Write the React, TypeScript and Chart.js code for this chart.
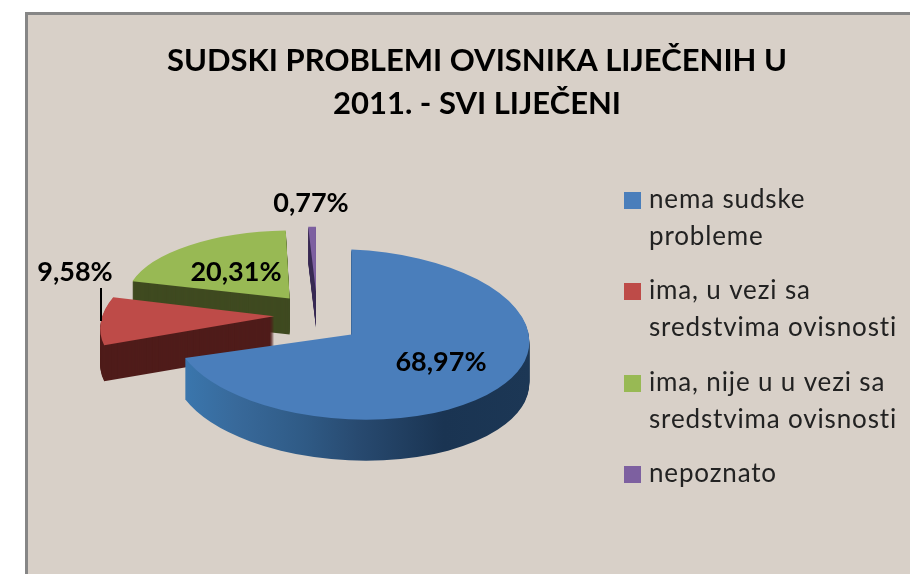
import React, { useEffect, useRef } from "react";
import { Chart, registerables } from "chart.js";

Chart.register(...registerables);

const titleLines = ["SUDSKI PROBLEMI OVISNIKA LIJEČENIH U", "2011. - SVI LIJEČENI"];
const legendLines = [
  ["nema sudske", "probleme"],
  ["ima, u vezi sa", "sredstvima ovisnosti"],
  ["ima, nije u u vezi sa", "sredstvima ovisnosti"],
  ["nepoznato"],
];
const categories = legendLines.map((l) => l.join(" "));
const shareValues = [68.97, 9.58, 20.31, 0.77];
const valueLabels = ["68,97%", "9,58%", "20,31%", "0,77%"];
const faceColors = ["#4a7ebb", "#be4b48", "#98b954", "#7d60a0"];
const wallColors = ["#2a4e74", "#4f1c1a", "#3f4a20", "#3a2c55"];

// Fake-3D projection of each slice (layout only)
const CENTER = { x: 317, y: 316 };
const EXPLODE = 43;
const EXPLODE_Y = 0.47;
const projection = [
  { m: [178, 0, 7, 85], nudge: [-1, 7], depth: 41 },
  { m: [172, -25.6, -0.3, 81], nudge: [0, -1], depth: 36 },
  { m: [163, -4, 0.8, 68], nudge: [0, -2], depth: 36 },
  { m: [160, 0, 0, 65], nudge: [0, -4], depth: 36 },
];
const drawOrder = [2, 3, 1, 0];
const labelPos = [
  [441, 362],
  [75, 272],
  [236, 272],
  [311, 203],
];
const legendTop = [192, 283, 375, 466];

const FONT = "Lato, 'Open Sans', sans-serif";

const pie3d = {
  id: "pie3d",
  beforeDatasetDraw() {
    return false;
  },
  afterDatasetsDraw(chart: any) {
    const ctx: CanvasRenderingContext2D = chart.ctx;
    const arcs = chart.getDatasetMeta(0).data;
    for (const i of drawOrder) {
      const arc = arcs[i];
      const p = projection[i];
      const R = arc.outerRadius;
      const mid = (arc.startAngle + arc.endAngle) / 2;
      const ax = CENTER.x + EXPLODE * Math.cos(mid) + p.nudge[0];
      const ay = CENTER.y + EXPLODE * EXPLODE_Y * Math.sin(mid) + p.nudge[1];
      const [a11, a12, a21, a22] = p.m.map((v) => v / R);
      const apply = (dy: number) =>
        ctx.transform(
          a11,
          a21,
          a12,
          a22,
          ax - a11 * arc.x - a12 * arc.y,
          ay + dy - a21 * arc.x - a22 * arc.y
        );
      let wall: any = wallColors[i];
      if (i === 0) {
        const toLocal = (sx: number) => arc.x + ((sx - ax) * R) / p.m[0];
        const g = ctx.createLinearGradient(toLocal(185), 0, toLocal(530), 0);
        g.addColorStop(0, "#3a76ad");
        g.addColorStop(0.15, "#38699a");
        g.addColorStop(0.35, "#2f5a85");
        g.addColorStop(0.5, "#284a70");
        g.addColorStop(0.75, "#1a3452");
        g.addColorStop(1, "#1c3755");
        wall = g;
      }
      const base = arc.options;
      const wallOpts = Object.assign(Object.create(base), { backgroundColor: wall, borderWidth: 0 });
      arc.options = wallOpts;
      for (let d = p.depth; d >= 1; d--) {
        ctx.save();
        apply(d);
        arc.draw(ctx);
        ctx.restore();
      }
      arc.options = base;
      ctx.save();
      apply(0);
      arc.draw(ctx);
      ctx.restore();
    }

    ctx.save();
    ctx.strokeStyle = "#000";
    ctx.lineWidth = 2;
    ctx.beginPath();
    ctx.moveTo(101, 288);
    ctx.lineTo(101, 321);
    ctx.stroke();
    ctx.fillStyle = "#000";
    ctx.textAlign = "center";
    ctx.textBaseline = "middle";
    ctx.font = `bold 27px ${FONT}`;
    valueLabels.forEach((t, i) => ctx.fillText(t, labelPos[i][0], labelPos[i][1]));

    ctx.textAlign = "left";
    ctx.font = `26px ${FONT}`;
    (ctx as any).letterSpacing = "0.85px";
    legendLines.forEach((lines, i) => {
      const y = legendTop[i];
      ctx.fillStyle = faceColors[i];
      ctx.fillRect(624, y, 17, 17);
      ctx.fillStyle = "#222";
      lines.forEach((line, j) => ctx.fillText(line, 649, y + 8 + j * 37));
    });
    (ctx as any).letterSpacing = "0px";
    ctx.restore();
  },
};

export default function App() {
  const ref = useRef<HTMLCanvasElement>(null);
  useEffect(() => {
    const chart = new Chart(ref.current as HTMLCanvasElement, {
      type: "pie",
      data: {
        labels: categories,
        datasets: [{ data: shareValues, backgroundColor: faceColors, borderWidth: 0 }],
      },
      options: {
        animation: false,
        responsive: false,
        layout: { padding: { left: 44, top: 0 } },
        plugins: {
          legend: { display: false },
          tooltip: { enabled: false },
          title: {
            display: true,
            text: titleLines,
            color: "#000",
            font: { family: FONT, size: 31, weight: "bold", lineHeight: 43 / 31 },
            padding: { top: 39, bottom: 10 },
          },
        },
      },
      plugins: [pie3d],
    } as any);
    return () => chart.destroy();
  }, []);
  return (
    <div style={{ position: "fixed", left: 0, top: 0, width: 910, height: 574, overflow: "hidden", background: "#fff" }}>
      <div
        style={{
          position: "absolute",
          left: 25,
          top: 12,
          width: 900,
          height: 600,
          background: "#d8d0c8",
          borderLeft: "3px solid #868686",
          borderTop: "3px solid #868686",
        }}
      />
      <canvas ref={ref} width={910} height={574} style={{ position: "absolute", left: 0, top: 0 }} />
    </div>
  );
}
